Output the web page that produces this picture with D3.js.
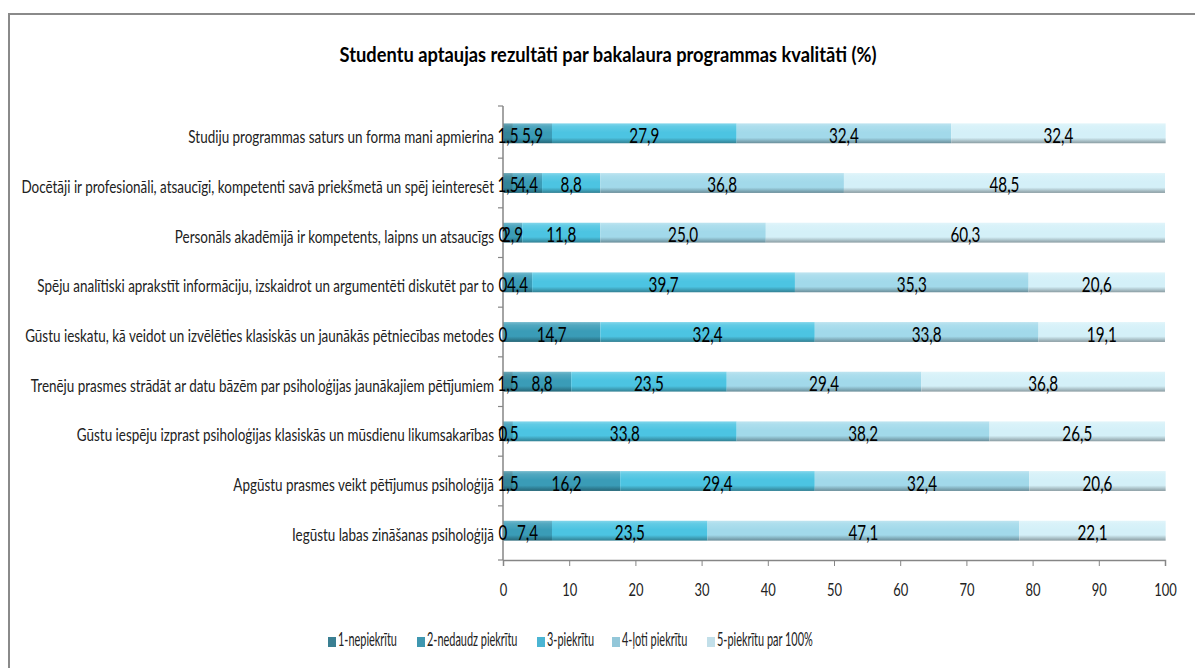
<!DOCTYPE html>
<html><head><meta charset="utf-8">
<script src="https://cdn.jsdelivr.net/npm/d3@7"></script>
<style>
html,body{margin:0;padding:0;background:#fff;}
svg{display:block;}
text{font-family:Lato,"Open Sans",sans-serif;}
</style></head>
<body>
<svg id="chart" width="1195" height="668"></svg>
<script>
const title = "Studentu aptaujas rezultāti par bakalaura programmas kvalitāti (%)";
const categories = [
  "Studiju programmas saturs un forma mani apmierina",
  "Docētāji ir profesionāli, atsaucīgi, kompetenti savā priekšmetā un spēj ieinteresēt",
  "Personāls akadēmijā ir kompetents, laipns un atsaucīgs",
  "Spēju analītiski aprakstīt informāciju, izskaidrot un argumentēti diskutēt par to",
  "Gūstu ieskatu, kā veidot un izvēlēties klasiskās un jaunākās pētniecības metodes",
  "Trenēju prasmes strādāt ar datu bāzēm par psiholoģijas jaunākajiem pētījumiem",
  "Gūstu iespēju izprast psiholoģijas  klasiskās un mūsdienu likumsakarības",
  "Apgūstu prasmes veikt pētījumus psiholoģijā",
  "Iegūstu labas zināšanas psiholoģijā"
];
const seriesNames = ["1-nepiekrītu","2-nedaudz piekrītu","3-piekrītu","4-ļoti piekrītu","5-piekrītu par 100%"];
const s1 = [1.5, 1.5, 0, 0, 0, 1.5, 0, 1.5, 0];
const s2 = [5.9, 4.4, 2.9, 4.4, 14.7, 8.8, 1.5, 16.2, 7.4];
const s3 = [27.9, 8.8, 11.8, 39.7, 32.4, 23.5, 33.8, 29.4, 23.5];
const s4 = [32.4, 36.8, 25.0, 35.3, 33.8, 29.4, 38.2, 32.4, 47.1];
const s5 = [32.4, 48.5, 60.3, 20.6, 19.1, 36.8, 26.5, 20.6, 22.1];
const xTicks = [0,10,20,30,40,50,60,70,80,90,100];

const barColors = ["#338398","#3a9cb7","#4cc4e2","#a2d9ea","#d4f0f8"];
const legendColors = ["#3a7f92","#3f97b0","#4bb5d3","#93c7d9","#c2dfe9"];

const svg = d3.select("#chart");
const series = [s1,s2,s3,s4,s5];

// horizontal condensing helper: scale factor from a calibration string and its target width
function condense(sel, calibText, targetW, attrs){
  const t = svg.append("text").text(calibText);
  Object.entries(attrs).forEach(([k,v])=>t.attr(k,v));
  const w = t.node().getComputedTextLength();
  t.remove();
  const k = targetW / w;
  sel.each(function(){
    const el = d3.select(this);
    const xx = +el.attr("x"), yy = +el.attr("y");
    el.attr("x",0).attr("y",0).attr("transform",`translate(${xx},${yy}) scale(${k},1)`);
  });
}

// frame
svg.append("path").attr("d","M9,668 L9,14 L1195,14").attr("fill","none")
  .attr("stroke","#8a8a8a").attr("stroke-width",2);

const titleT = svg.append("text").attr("x",608).attr("y",62).attr("text-anchor","middle")
  .attr("font-size",21).attr("font-weight","bold").attr("fill","#000").text(title);
condense(titleT, title, 537, {"font-size":21,"font-weight":"bold"});

const x = d3.scaleLinear().domain([0,100]).range([503,1165]);
const y = d3.scaleBand().domain(categories).range([106,558]).paddingInner(0.6).paddingOuter(0.35);

// gradients
const defs = svg.append("defs");
barColors.forEach((c,i)=>{
  const g = defs.append("linearGradient").attr("id","g"+i).attr("x1",0).attr("y1",0).attr("x2",0).attr("y2",1);
  const base = d3.color(c);
  g.append("stop").attr("offset","0%").attr("stop-color",d3.interpolateRgb(c,"#ffffff")(0.3));
  g.append("stop").attr("offset","15%").attr("stop-color",d3.interpolateRgb(c,"#ffffff")(0.12));
  g.append("stop").attr("offset","45%").attr("stop-color",c);
  g.append("stop").attr("offset","72%").attr("stop-color",c);
  g.append("stop").attr("offset","100%").attr("stop-color",base.darker(1.2).formatHex());
});

// stacked data
const rows = categories.map((cat,ci)=>{
  let acc=0;
  return series.map((s,si)=>{ const v=s[ci]; const seg={cat,si,v,x0:acc,x1:acc+v}; acc+=v; return seg; });
});
const segs = rows.flat();

svg.append("g").selectAll("rect").data(segs).join("rect")
  .attr("x",d=>x(d.x0)).attr("width",d=>Math.max(0,x(d.x1)-x(d.x0)))
  .attr("y",d=>y(d.cat)).attr("height",y.bandwidth())
  .attr("fill",d=>"url(#g"+d.si+")");

// y axis
const yAxis = svg.append("g").attr("transform","translate(503,0)");
yAxis.append("line").attr("x1",0).attr("x2",0).attr("y1",106).attr("y2",560).attr("stroke","#868686").attr("stroke-width",1.5);
const bounds = d3.range(categories.length+1).map(i=> i===0 ? 106 : (i===categories.length ? 560 : y(categories[i]) - y.step()*y.paddingInner()/2));
yAxis.selectAll(".yt").data(bounds).join("line").attr("x1",-5).attr("x2",0)
  .attr("y1",d=>d).attr("y2",d=>d).attr("stroke","#868686").attr("stroke-width",1.2);
const catT = svg.append("g").selectAll("text").data(categories).join("text")
  .attr("x",494).attr("y",d=>y(d)+y.bandwidth()/2+10)
  .attr("text-anchor","end").attr("font-size",18).attr("fill","#222").text(d=>d);
condense(catT, categories[1], 473, {"font-size":18});

// x axis
const xAxis = d3.axisBottom(x).tickValues(xTicks).tickSize(6).tickPadding(17).tickFormat(d=>d);
const gx = svg.append("g").attr("transform","translate(0,560)").call(xAxis);
gx.select(".domain").attr("stroke","#868686").attr("stroke-width",1.5);
gx.selectAll(".tick line").attr("stroke","#868686");
gx.selectAll(".tick text").attr("font-size",18).attr("fill","#222")
  .style("font-family","Lato,sans-serif").attr("dy",0).attr("y",36)
  .attr("transform","scale(0.72,1)");

// data labels
const fmt = v => v===0 ? "0" : v.toFixed(1).replace(".",",");
const dl = svg.append("g").selectAll("text").data(segs).join("text")
  .attr("x",d=>x((d.x0+d.x1)/2)).attr("y",d=>y(d.cat)+y.bandwidth()/2+9.5)
  .attr("text-anchor","middle").attr("font-size",22).attr("fill","#000").text(d=>fmt(d.v));
condense(dl, "27,9", 30, {"font-size":22});

// legend
const legendX = [328,417,537,612,707];
const lg = svg.append("g").selectAll("g").data(seriesNames).join("g")
  .attr("transform",(d,i)=>`translate(${legendX[i]},641)`);
lg.append("rect").attr("x",0).attr("y",-4).attr("width",8).attr("height",10).attr("fill",(d,i)=>legendColors[i]);
const lt = lg.append("text").attr("x",10).attr("y",4.5).attr("font-size",20).attr("fill","#222").text(d=>d);
condense(lt, seriesNames[0], 59, {"font-size":20});
</script>
</body></html>
